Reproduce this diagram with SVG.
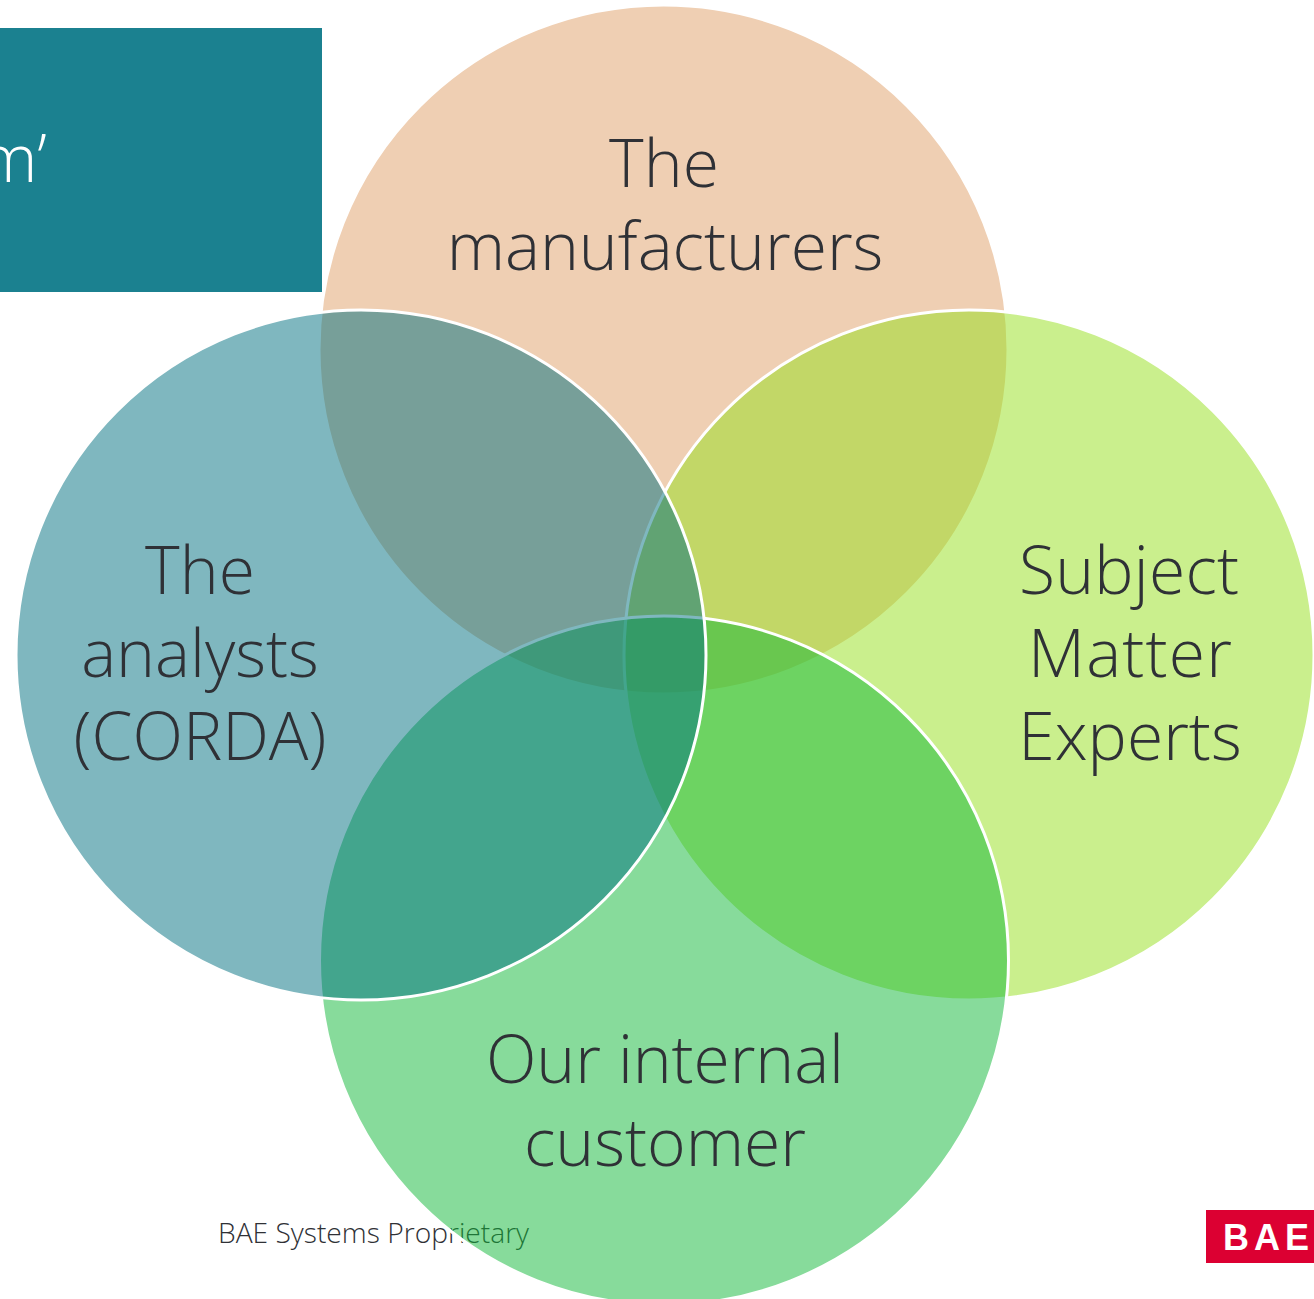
<svg xmlns="http://www.w3.org/2000/svg" width="1314" height="1299" viewBox="0 0 1314 1299">
<style>
.c{stroke:#fff;stroke-width:3;fill-opacity:.5}
.t{font-family:"Open Sans","Noto Sans",sans-serif;font-weight:300;font-size:66px;fill:#2f3136;text-anchor:middle}
</style>
<rect width="1314" height="1299" fill="#fff"/>
<g id="footer"><text x="218" y="1243" style="font-family:'Open Sans','Noto Sans',sans-serif;font-weight:300;font-size:28.200px;fill:#2f3136">BAE Systems Proprietary</text></g>
<g id="title"><rect x="0" y="28" width="322" height="264" fill="#1b8190"/><text x="-21" y="182" style="font-family:'Open Sans','Noto Sans',sans-serif;font-weight:300;font-size:66px;fill:#fff">m’</text></g>
<g id="logo"><rect x="1206" y="1210" width="108" height="53" fill="#dc0032"/><text x="1223" y="1249.500" style="font-family:'Liberation Sans',sans-serif;font-weight:700;font-size:36px;letter-spacing:5px;fill:#fff">BAE</text></g>
<g id="manufacturers"><circle class="c" cx="663.5" cy="349.500" r="344.500" fill="#dfa068"/></g>
<g id="sme"><circle class="c" cx="969" cy="655" r="345" fill="#96df1c"/></g>
<g id="customer"><circle class="c" cx="664" cy="960.500" r="344.500" fill="#0fb737"/></g>
<g id="analysts"><circle class="c" cx="361" cy="655" r="345" fill="#006f80"/></g>
<g id="labels">
<text class="t" x="664" y="187">The</text><text class="t" x="665" y="270">manufacturers</text>
<text class="t" x="200" y="594">The</text><text class="t" x="200" y="677">analysts</text><text class="t" x="200" y="760">(CORDA)</text>
<text class="t" x="1129" y="594" textLength="220" lengthAdjust="spacing">Subject</text><text class="t" x="1130" y="677" textLength="204" lengthAdjust="spacing">Matter</text><text class="t" x="1130" y="760">Experts</text>
<text class="t" x="665" y="1083" textLength="358" lengthAdjust="spacing">Our internal</text><text class="t" x="665" y="1166">customer</text>
</g>
</svg>
